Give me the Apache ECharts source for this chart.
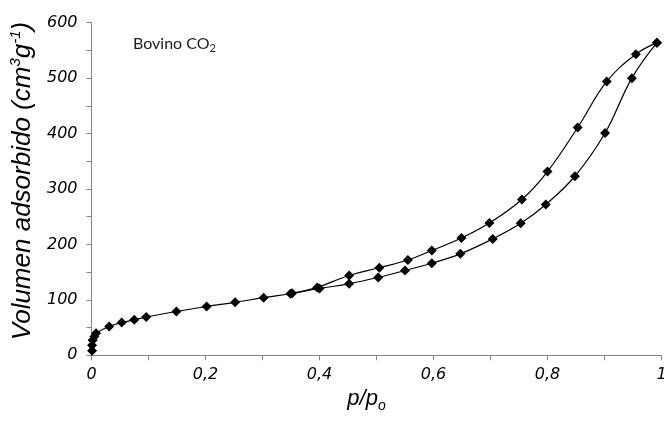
<!DOCTYPE html>
<html>
<head>
<meta charset="utf-8">
<script src="https://cdn.jsdelivr.net/npm/echarts@6/dist/echarts.min.js"></script>
<style>
html,body{margin:0;padding:0;background:#fff;}
#chart{width:664px;height:432px;}
</style>
</head>
<body>
<div id="chart"></div>
<script>
// Adsorption branch (lower at high p/po)
var adsP = [0.001, 0.001, 0.002, 0.005, 0.008, 0.031, 0.053, 0.075, 0.096, 0.149, 0.202, 0.252, 0.302, 0.349, 0.400, 0.452, 0.503, 0.550, 0.597, 0.647, 0.704, 0.753, 0.797, 0.848, 0.901, 0.948, 0.992];
var adsV = [8, 18, 27, 34, 40, 52, 59, 64, 69, 79, 88, 95.5, 104, 111, 120.5, 129, 140.5, 153, 166, 183, 210, 238, 272, 323, 401, 500, 564];
// Desorption branch (upper at high p/po)
var desP = [0.992, 0.955, 0.904, 0.853, 0.800, 0.755, 0.698, 0.649, 0.597, 0.555, 0.505, 0.452, 0.396, 0.352];
var desV = [564, 543, 494, 411, 331.5, 281, 238.5, 211.5, 189, 172, 158, 144, 122.5, 112];

var xMin = 0, xMax = 1, xStep = 0.1;
var yMin = 0, yMax = 600, yStep = 50;

function zip(a, b) { return a.map(function (v, i) { return [v, b[i]]; }); }

var chart = echarts.init(document.getElementById('chart'), null, {renderer: 'canvas'});
var axisColor = '#868686';
var tickFont = {fontFamily: 'DejaVu Sans', fontStyle: 'italic', fontSize: 16, color: '#000'};

var seriesStyle = {
  type: 'line',
  smooth: 0.4,
  symbol: 'diamond',
  symbolSize: 10,
  itemStyle: {color: '#000'},
  lineStyle: {color: '#000', width: 1.2},
  clip: false,
  animation: false
};

chart.setOption({
  animation: false,
  grid: {left: 91.5, right: 2.5, top: 22.7, bottom: 76.7, containLabel: false, outerBoundsMode: 'none'},
  xAxis: {
    type: 'value', min: xMin, max: xMax, interval: xStep,
    name: '{n|p/p}{sub|o}',
    nameLocation: 'middle', nameGap: 30,
    nameTextStyle: {
      padding: [0, 20, 0, 0],
      rich: {
        n: {fontFamily: 'Liberation Sans', fontStyle: 'italic', fontSize: 22, lineHeight: 28, color: '#000'},
        sub: {fontFamily: 'Liberation Sans', fontStyle: 'italic', fontSize: 14, lineHeight: 14, verticalAlign: 'bottom', color: '#000'}
      }
    },
    axisLine: {show: true, lineStyle: {color: axisColor, width: 1}},
    axisTick: {show: true, inside: false, length: 5, lineStyle: {color: axisColor}},
    splitLine: {show: false},
    axisLabel: Object.assign({
      margin: 12,
      showMaxLabel: true,
      formatter: function (v) {
        var k = Math.round(v * 10);
        if (k % 2 !== 0) return '';
        if (k === 0) return '0';
        if (k === 10) return '1';
        return (k / 10).toFixed(1).replace('.', ',');
      }
    }, tickFont)
  },
  yAxis: {
    type: 'value', min: yMin, max: yMax, interval: yStep,
    name: '{n|Volumen adsorbido (cm}{sup|3}{n|g}{sup|-1}{n|)}',
    nameLocation: 'middle', nameGap: 47, nameRotate: 90,
    nameTextStyle: {
      padding: [0, 0, 0, 16],
      rich: {
        n: {fontFamily: 'Liberation Sans', fontStyle: 'italic', fontSize: 26, lineHeight: 30, color: '#000'},
        sup: {fontFamily: 'Liberation Sans', fontStyle: 'italic', fontSize: 15, lineHeight: 15, verticalAlign: 'top', color: '#000'}
      }
    },
    axisLine: {show: true, lineStyle: {color: axisColor, width: 1}},
    axisTick: {show: true, inside: false, length: 5, lineStyle: {color: axisColor}},
    splitLine: {show: false},
    axisLabel: Object.assign({
      margin: 14,
      formatter: function (v) { return (Math.round(v) % 100 === 0) ? String(v) : ''; }
    }, tickFont)
  },
  graphic: [{
    type: 'text',
    left: 133, top: 36,
    style: {
      text: '{n|Bovino CO}{sub|2}',
      rich: {
        n: {fontFamily: 'Lato', fontSize: 16, lineHeight: 20, fill: '#222'},
        sub: {fontFamily: 'Lato', fontSize: 11, lineHeight: 12, verticalAlign: 'bottom', fill: '#222'}
      }
    }
  }],
  series: [
    Object.assign({name: 'Adsorción', data: zip(adsP, adsV)}, seriesStyle),
    Object.assign({name: 'Desorción', data: zip(desP, desV)}, seriesStyle)
  ]
});
</script>
</body>
</html>
